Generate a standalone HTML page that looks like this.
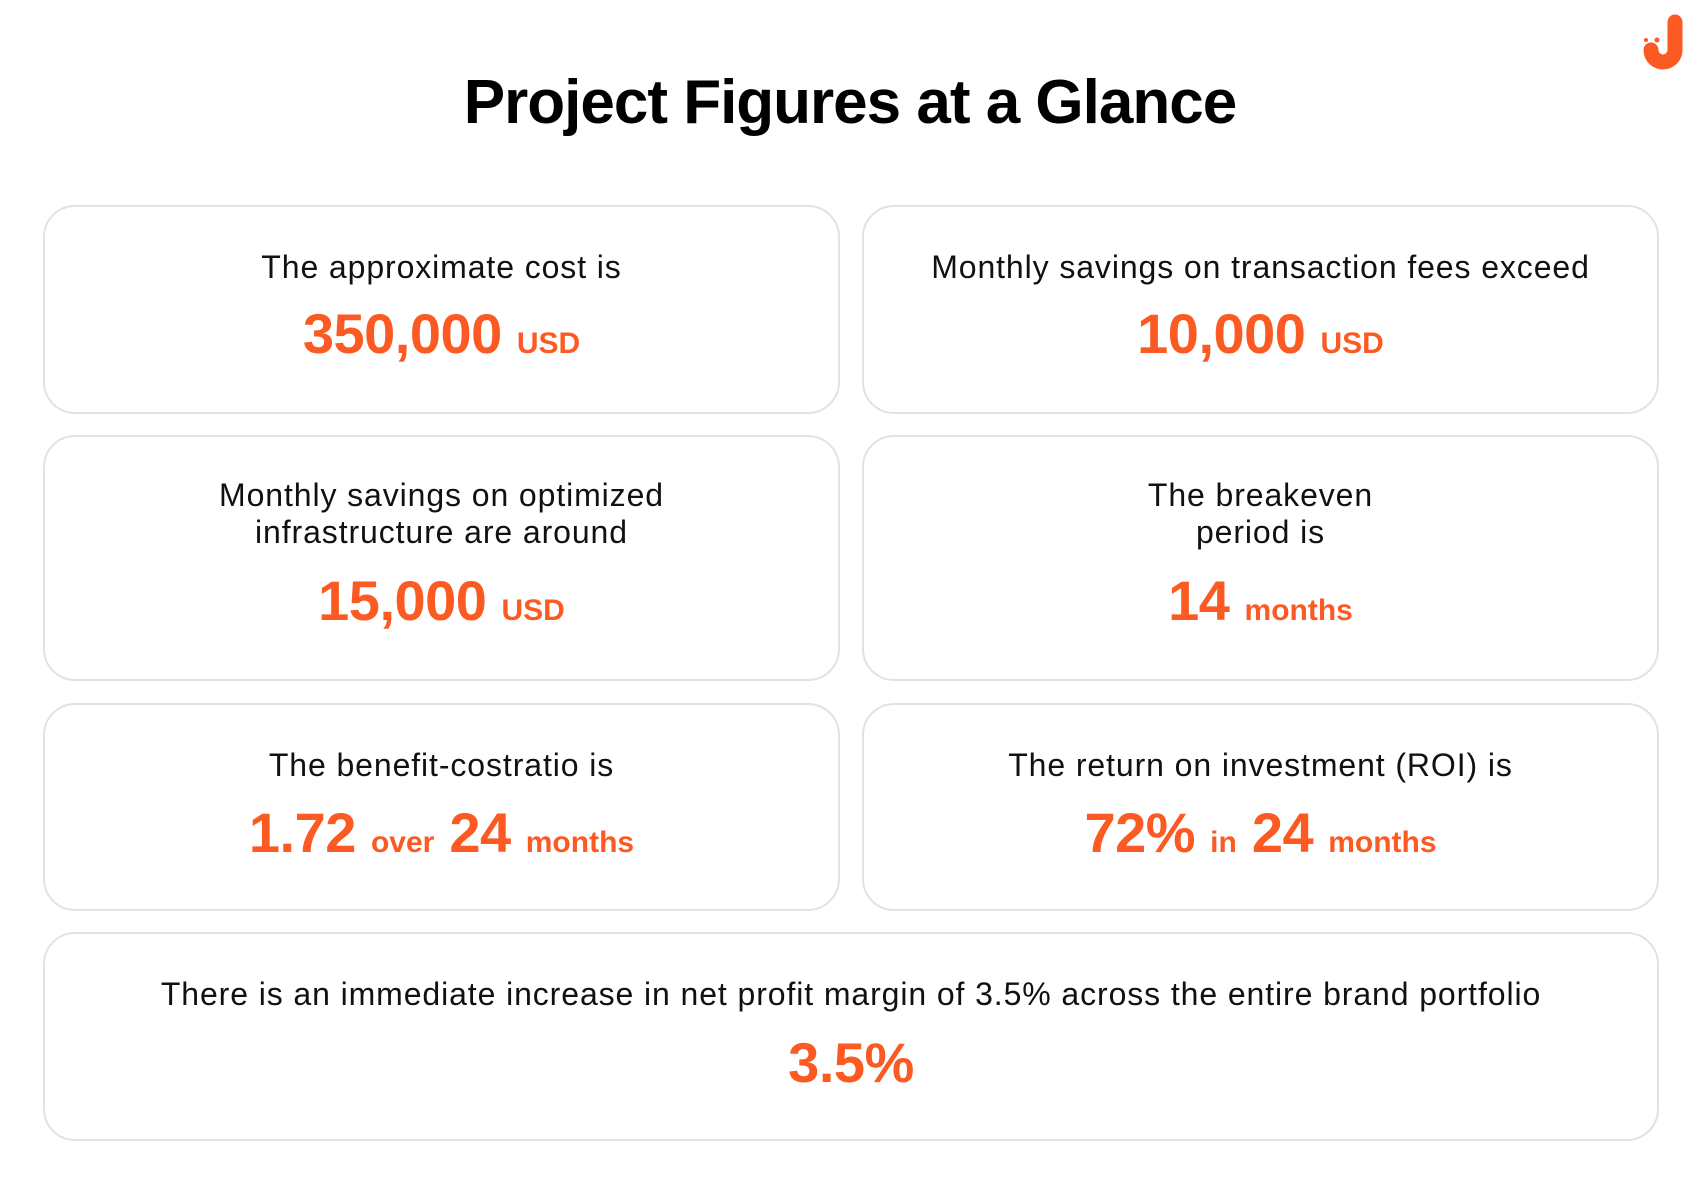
<!DOCTYPE html>
<html><head><meta charset="utf-8"><style>
body{margin:0;width:1700px;height:1198px;background:#fff;position:relative;font-family:"Liberation Sans",sans-serif;overflow:hidden}
.t{position:absolute;left:0;width:1700px;text-align:center;top:67px;font-size:62px;font-weight:bold;color:#000;letter-spacing:-1px}
.c{position:absolute;border:2px solid #e2e2e6;border-radius:32px;box-sizing:border-box}
.l{position:absolute;width:100%;text-align:center;font-size:32px;color:#111;line-height:37px;letter-spacing:0.9px}
.v{position:absolute;width:100%;text-align:center;font-size:56px;font-weight:bold;color:#fb5a23;line-height:60px;letter-spacing:-0.5px}
.v span{font-size:30px;letter-spacing:0}
</style></head><body>
<svg style="position:absolute;left:1642px;top:14px" width="50" height="60" viewBox="0 0 50 60">
<path d="M33 8 V36 A12 12 0 0 1 9 36" stroke="#fb5a23" stroke-width="15" fill="none" stroke-linecap="round"/>
<circle cx="9" cy="31" r="2.5" fill="#fb5a23"/><circle cx="15" cy="26" r="2.5" fill="#fb5a23"/><circle cx="4" cy="26" r="2" fill="#fb5a23"/>
</svg>
<div class="t">Project Figures at a Glance</div>

<div class="c" style="left:43px;top:205px;width:797px;height:209px"><div class="l" style="top:42px">The approximate cost is</div><div class="v" style="top:97px">350,000 <span>USD</span></div></div>
<div class="c" style="left:862px;top:205px;width:797px;height:209px"><div class="l" style="top:42px">Monthly savings on transaction fees exceed</div><div class="v" style="top:97px">10,000 <span>USD</span></div></div>

<div class="c" style="left:43px;top:435px;width:797px;height:246px"><div class="l" style="top:40px">Monthly savings on optimized<br>infrastructure are around</div><div class="v" style="top:134px">15,000 <span>USD</span></div></div>
<div class="c" style="left:862px;top:435px;width:797px;height:246px"><div class="l" style="top:40px">The breakeven<br>period is</div><div class="v" style="top:134px">14 <span>months</span></div></div>

<div class="c" style="left:43px;top:703px;width:797px;height:208px"><div class="l" style="top:42px">The benefit-costratio is</div><div class="v" style="top:98px">1.72 <span>over</span> 24 <span>months</span></div></div>
<div class="c" style="left:862px;top:703px;width:797px;height:208px"><div class="l" style="top:42px">The return on investment (ROI) is</div><div class="v" style="top:98px">72% <span>in</span> 24 <span>months</span></div></div>

<div class="c" style="left:43px;top:932px;width:1616px;height:209px"><div class="l" style="top:42px">There is an immediate increase in net profit margin of 3.5% across the entire brand portfolio</div><div class="v" style="top:99px">3.5%</div></div>
</body></html>
